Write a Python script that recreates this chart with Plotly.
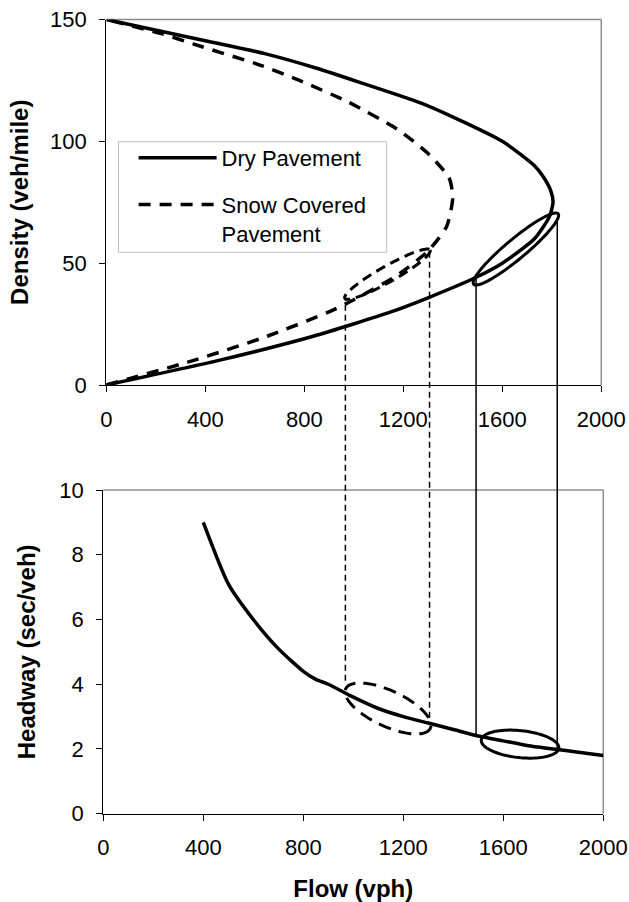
import numpy as np
import plotly.graph_objects as go

# ---------------- data ----------------
# Density vs flow, dry pavement
dry_flow = [0, 450, 836, 1150, 1305, 1490, 1600, 1730, 1790, 1805, 1795, 1762, 1730, 1600, 1290, 1030, 850, 640, 414, 0]
dry_density = [0, 10, 20, 30, 36, 44, 50, 60, 69, 75, 80, 86, 90, 100, 115, 124, 130, 136, 141, 150]

# Density vs flow, snow covered pavement
snow_flow = [0, 350, 650, 900, 1000, 1175, 1300, 1375, 1400, 1385, 1300, 1175, 980, 780, 630, 350, 230, 0]
snow_density = [0, 10, 20, 30, 35, 45, 55, 65, 77, 85, 95, 105, 116, 125, 131, 140, 144, 150]

# Headway vs flow
headway_flow = [400, 500, 600, 700, 800, 850, 900, 1000, 1100, 1200, 1300, 1400, 1500, 1600, 1700, 1800, 1900, 2000]
headway_sec = [9.0, 7.1, 6.0, 5.1, 4.4, 4.15, 4.0, 3.6, 3.25, 3.0, 2.8, 2.6, 2.4, 2.25, 2.1, 2.0, 1.9, 1.8]

flow_ticks = [0, 400, 800, 1200, 1600, 2000]
density_ticks = [0, 50, 100, 150]
headway_ticks = [0, 2, 4, 6, 8, 10]

# connector lines between the two panels
guide_flow = [966, 1306, 1494, 1822]
guide_density = [37.0, 54.7, 44.2, 68.4]
guide_headway = [4.03, 2.84, 2.43, 2.02]
guide_dash = ["6px,4px", "6px,4px", "solid", "solid"]

# highlight ellipses: panel, centre flow, centre value, semi-axes (px), angle (deg), dash
ell_panel = ["top", "top", "bottom", "bottom"]
ell_flow = [1655, 1136, 1667, 1139]
ell_value = [55.8, 45.5, 2.15, 3.25]
ell_a = [55, 49, 39, 46.7]
ell_b = [10, 8, 13.5, 17.8]
ell_angle = [-39.8, -29.5, 6, 25]
ell_dash = ["solid", "10px,6px", "solid", "13px,8px"]

# ---------------- layout geometry ----------------
W, H = 629, 902
FONT = "Liberation Sans, Arial, sans-serif"
# plot areas in screen pixels
PANEL = {
    "top": dict(x=(106.3, 601.3), y=(385.0, 19.5), xr=(0, 2000), yr=(0, 150)),
    "bottom": dict(x=(103.3, 603.3), y=(813.7, 490.0), xr=(0, 2000), yr=(0, 10)),
}


def to_px(panel, xv, yv):
    p = PANEL[panel]
    px = p["x"][0] + (xv - p["xr"][0]) / (p["xr"][1] - p["xr"][0]) * (p["x"][1] - p["x"][0])
    py = p["y"][0] + (yv - p["yr"][0]) / (p["yr"][1] - p["yr"][0]) * (p["y"][1] - p["y"][0])
    return px, py


def paper(px, py):
    return px / W, 1 - py / H


def xdom(panel):
    p = PANEL[panel]
    return [paper(p["x"][0], 0)[0], paper(p["x"][1], 0)[0]]


def ydom(panel):
    p = PANEL[panel]
    return [paper(0, p["y"][0])[1], paper(0, p["y"][1])[1]]


fig = go.Figure()

fig.add_trace(go.Scatter(
    x=dry_flow, y=dry_density, mode="lines", name="Dry Pavement",
    line=dict(color="black", width=3.5, shape="spline", smoothing=0.6),
    xaxis="x", yaxis="y", legendgroup="dry"))
fig.add_trace(go.Scatter(
    x=snow_flow, y=snow_density, mode="lines", name="Snow Covered<br>Pavement",
    line=dict(color="black", width=3.5, dash="12px,9px", shape="spline", smoothing=0.6),
    xaxis="x", yaxis="y", legendgroup="snow"))
fig.add_trace(go.Scatter(
    x=headway_flow, y=headway_sec, mode="lines", showlegend=False,
    line=dict(color="black", width=3.5, shape="spline", smoothing=0.6),
    xaxis="x2", yaxis="y2"))

shapes = []
# grey plot-area frame (top and right edges)
for pn in ["top", "bottom"]:
    x0, x1 = PANEL[pn]["x"]
    yb, yt = PANEL[pn]["y"]
    for (ax0, ay0, ax1, ay1) in [(x0, yt, x1, yt), (x1, yt, x1, yb)]:
        p0 = paper(ax0, ay0)
        p1 = paper(ax1, ay1)
        shapes.append(dict(type="line", xref="paper", yref="paper",
                           x0=p0[0], y0=p0[1], x1=p1[0], y1=p1[1],
                           line=dict(color="#8c8c8c", width=1.5), layer="below"))

# connector lines
for f, d, h, ds in zip(guide_flow, guide_density, guide_headway, guide_dash):
    xa, ya = to_px("top", f, d)
    _, yb = to_px("bottom", f, h)
    p0 = paper(xa, ya)
    p1 = paper(xa, yb)
    shapes.append(dict(type="line", xref="paper", yref="paper",
                       x0=p0[0], y0=p0[1], x1=p1[0], y1=p1[1],
                       line=dict(color="black", width=1.5, dash=ds), layer="above"))

# highlight ellipses
t = np.linspace(0, 2 * np.pi, 97)
for pn, f, v, a, b, ang, ds in zip(ell_panel, ell_flow, ell_value, ell_a, ell_b, ell_angle, ell_dash):
    cx, cy = to_px(pn, f, v)
    th = np.radians(ang)
    ex = a * np.cos(t)
    ey = b * np.sin(t)
    X = cx + ex * np.cos(th) - ey * np.sin(th)
    Y = cy + ex * np.sin(th) + ey * np.cos(th)
    pts = [paper(xx, yy) for xx, yy in zip(X, Y)]
    path = "M " + " L ".join(f"{px:.5f},{py:.5f}" for px, py in pts) + " Z"
    shapes.append(dict(type="path", xref="paper", yref="paper", path=path,
                       line=dict(color="black", width=3, dash=ds), layer="above"))

# legend frame
lx0, ly0 = paper(118.5, 141.7)
lx1, ly1 = paper(386.7, 252.3)
shapes.append(dict(type="rect", xref="paper", yref="paper", x0=lx0, y0=ly1, x1=lx1, y1=ly0,
                   line=dict(color="#bfbfbf", width=1), fillcolor="white", layer="below"))

axis_common = dict(
    showline=True, linecolor="black", linewidth=1.3, mirror=False,
    ticks="outside", ticklen=6, tickcolor="black", tickwidth=1.3,
    showgrid=False, zeroline=False, tickfont=dict(size=22, family=FONT, color="black"),
    ticklabelstandoff=8, ticklabeloverflow="allow", fixedrange=True, automargin=False,
)

leg_x, leg_y = paper(133.6, 137)

fig.update_layout(
    width=W, height=H,
    margin=dict(l=0, r=0, t=0, b=0, autoexpand=False),
    paper_bgcolor="white", plot_bgcolor="rgba(0,0,0,0)",
    font=dict(family=FONT, color="black", size=22),
    xaxis=dict(domain=xdom("top"), range=list(PANEL["top"]["xr"]), tickvals=flow_ticks,
               anchor="y", **axis_common),
    yaxis=dict(domain=ydom("top"), range=list(PANEL["top"]["yr"]), tickvals=density_ticks,
               anchor="x",
               title=dict(text="<b>Density (veh/mile)</b>", font=dict(size=24, family=FONT), standoff=14),
               **axis_common),
    xaxis2=dict(domain=xdom("bottom"), range=list(PANEL["bottom"]["xr"]), tickvals=flow_ticks,
                anchor="y2",
                title=dict(text="<b>Flow (vph)</b>", font=dict(size=24, family=FONT), standoff=34),
                **axis_common),
    yaxis2=dict(domain=ydom("bottom"), range=list(PANEL["bottom"]["yr"]), tickvals=headway_ticks,
                anchor="x2",
                title=dict(text="<b>Headway (sec/veh)</b>", font=dict(size=24, family=FONT), standoff=16),
                **axis_common),
    showlegend=True,
    legend=dict(x=leg_x, y=leg_y, xanchor="left", yanchor="top",
                bgcolor="rgba(0,0,0,0)", borderwidth=0, itemwidth=78,
                font=dict(size=22, family=FONT, color="black"),
                traceorder="grouped", tracegroupgap=15, valign="top"),
    shapes=shapes,
)

fig.write_html("out.html", config={"displayModeBar": False},
               post_script="document.body.style.margin='0';")
